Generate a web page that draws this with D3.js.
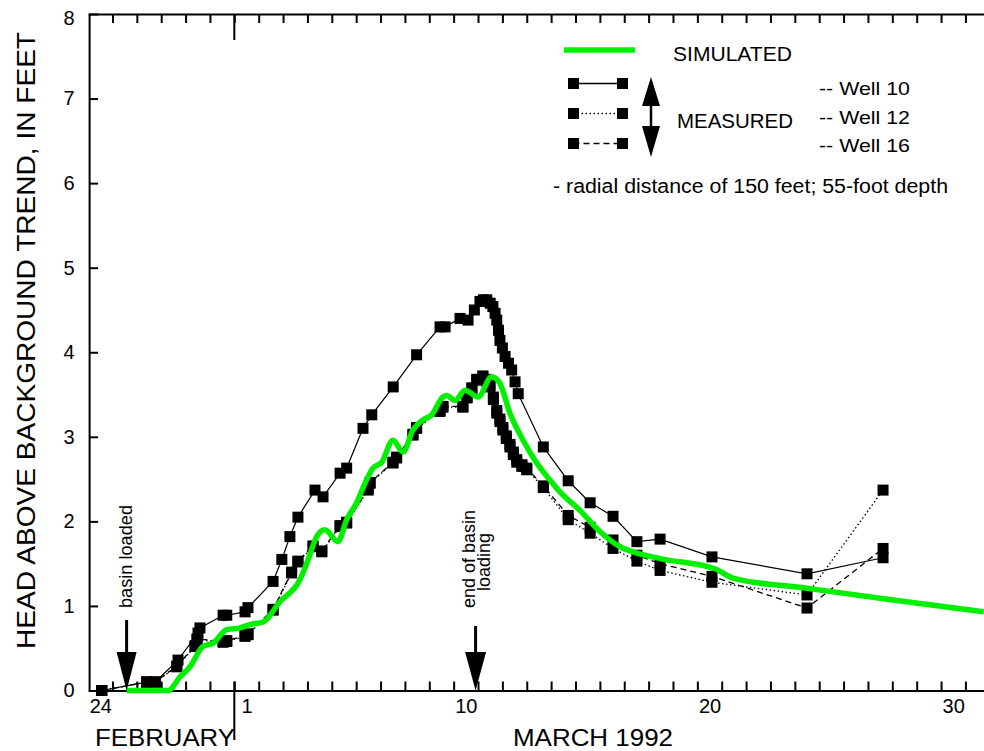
<!DOCTYPE html>
<html>
<head>
<meta charset="utf-8">
<script src="https://cdn.jsdelivr.net/npm/d3@7"></script>
<style>
  body { margin: 0; background: #fff; }
  svg { display: block; font-family: "Liberation Sans", Arial, sans-serif; }
</style>
</head>
<body>
<div id="chart"></div>
<script>
const w = 984;
const h = 751;

// days counted from Feb 24 1992, 00:00
const dayLabels = ["24", "1", "10", "20", "30"];
const dayLabelAt = [0, 6, 15, 25, 35];
const monthLabels = ["FEBRUARY", "MARCH 1992"];
const yTicks = [0, 1, 2, 3, 4, 5, 6, 7, 8];
const eventDays = [1.58, 15.9]; // basin loaded, end of basin loading

const well10 = [
  [0.56, 0.00], [2.40, 0.10], [2.75, 0.10], [3.69, 0.36], [4.51, 0.68], [4.59, 0.74],
  [5.54, 0.89], [5.69, 0.89], [6.44, 0.93], [6.56, 0.98], [7.59, 1.29], [7.95, 1.55],
  [8.28, 1.82], [8.61, 2.05], [9.31, 2.37], [9.64, 2.29], [10.34, 2.57], [10.61, 2.63],
  [11.28, 3.10], [11.64, 3.26], [12.52, 3.59], [13.48, 3.97], [14.44, 4.30], [14.65, 4.30],
  [15.26, 4.40], [15.59, 4.38], [15.85, 4.50], [16.08, 4.60], [16.22, 4.62], [16.36, 4.62],
  [16.50, 4.58], [16.61, 4.54], [16.70, 4.46], [16.77, 4.38], [16.84, 4.26], [16.90, 4.14],
  [17.00, 4.05], [17.11, 3.95], [17.25, 3.87], [17.38, 3.79], [17.52, 3.65], [17.65, 3.51],
  [18.68, 2.88], [19.70, 2.48], [20.60, 2.22], [21.54, 2.06], [22.52, 1.76], [23.47, 1.79],
  [25.60, 1.58], [29.50, 1.38], [32.62, 1.57]
];

const well12 = [
  [0.56, 0.00], [2.40, 0.10], [2.75, 0.10], [3.64, 0.28], [4.39, 0.52], [4.47, 0.60],
  [5.54, 0.57], [5.69, 0.58], [6.44, 0.64], [6.56, 0.66], [7.59, 0.95], [8.35, 1.39],
  [8.61, 1.52], [9.23, 1.70], [9.59, 1.64], [10.34, 1.94], [10.61, 1.98], [11.49, 2.37],
  [11.57, 2.45], [12.51, 2.69], [12.66, 2.75], [13.33, 3.02], [13.48, 3.10], [14.44, 3.30],
  [14.56, 3.35], [15.38, 3.35], [15.55, 3.46], [15.75, 3.57], [15.95, 3.67], [16.20, 3.71],
  [16.35, 3.66], [16.49, 3.59], [16.63, 3.44], [16.77, 3.28], [16.90, 3.18], [17.02, 3.08],
  [17.16, 2.98], [17.31, 2.88], [17.45, 2.79], [17.59, 2.70], [17.80, 2.65], [18.00, 2.61],
  [18.68, 2.40], [19.70, 2.02], [20.60, 1.86], [21.54, 1.68], [22.52, 1.53], [23.47, 1.42],
  [25.60, 1.28], [29.50, 1.13], [32.62, 2.37]
];

const well16 = [
  [0.56, 0.00], [2.40, 0.10], [2.75, 0.10], [3.64, 0.29], [4.39, 0.53], [4.47, 0.61],
  [5.54, 0.58], [5.69, 0.59], [6.44, 0.65], [6.56, 0.67], [7.59, 0.96], [8.35, 1.40],
  [8.61, 1.53], [9.23, 1.71], [9.59, 1.65], [10.34, 1.95], [10.61, 1.99], [11.49, 2.38],
  [11.57, 2.46], [12.51, 2.70], [12.66, 2.76], [13.33, 3.03], [13.48, 3.11], [14.44, 3.31],
  [14.56, 3.36], [15.38, 3.36], [15.55, 3.47], [15.75, 3.58], [15.95, 3.68], [16.20, 3.72],
  [16.35, 3.68], [16.49, 3.61], [16.63, 3.47], [16.77, 3.31], [16.90, 3.21], [17.02, 3.11],
  [17.16, 3.01], [17.31, 2.91], [17.45, 2.82], [17.59, 2.73], [17.80, 2.67], [18.00, 2.63],
  [18.68, 2.42], [19.70, 2.07], [20.60, 1.93], [21.54, 1.78], [22.52, 1.60], [23.47, 1.50],
  [25.60, 1.35], [29.50, 0.975], [32.62, 1.68]
];

const simulated = [
  [1.58, 0.00], [3.28, 0.00], [3.77, 0.16], [4.18, 0.28], [4.71, 0.52], [5.13, 0.56],
  [5.69, 0.72], [6.23, 0.74], [6.64, 0.78], [7.18, 0.81], [7.87, 1.05], [8.69, 1.31],
  [9.02, 1.54], [9.38, 1.82], [9.72, 1.90], [10.25, 1.76], [10.61, 2.02], [11.02, 2.22],
  [11.36, 2.45], [11.69, 2.63], [12.05, 2.70], [12.51, 2.96], [12.92, 2.82], [13.33, 3.08],
  [13.74, 3.20], [14.10, 3.26], [14.56, 3.47], [14.71, 3.49], [15.06, 3.43], [15.47, 3.55],
  [16.00, 3.47], [16.56, 3.71], [16.90, 3.63], [17.31, 3.28], [17.85, 2.96], [18.41, 2.69],
  [18.95, 2.49], [19.36, 2.35], [20.18, 2.13], [21.00, 1.88], [21.83, 1.70], [22.36, 1.64],
  [23.47, 1.56], [25.72, 1.44], [26.46, 1.33], [29.49, 1.21], [33.03, 1.07], [36.75, 0.93]
];

const wellNames = ["-- Well 10", "-- Well 12", "-- Well 16"];
const wellDash = [null, "1.5,2.5", "6,4"];

const green = "#00f000";
const font = "'Liberation Sans', Arial, sans-serif";

let svg = d3.select('#chart')
  .append('svg')
    .attr('width', w)
    .attr('height', h);

svg.append('rect').attr('width', w).attr('height', h).attr('fill', '#fff');

const xScale = d3.scaleLinear().domain([0, 36.75]).range([88.1, 983.7]);
const yScale = d3.scaleLinear().domain([0, 8]).range([690.5, 14]);

// axes
function styleAxis(g) {
  g.select('.domain').attr('stroke', '#000').attr('stroke-width', 2);
  g.selectAll('.tick line').attr('stroke', '#000').attr('stroke-width', 2);
}

svg.append('g')
  .attr('transform', `translate(0,${yScale(0)})`)
  .call(d3.axisBottom(xScale).tickValues(d3.range(1, 37)).tickSizeInner(-9).tickSizeOuter(0).tickFormat(''))
  .call(styleAxis);

svg.append('g')
  .attr('transform', `translate(0,${yScale(8)})`)
  .call(d3.axisTop(xScale).tickValues(d3.range(1, 37)).tickSizeInner(-9).tickSizeOuter(0).tickFormat(''))
  .call(styleAxis);

svg.append('g')
  .attr('transform', `translate(${xScale(0) + 1},0)`)
  .call(d3.axisLeft(yScale).tickValues(yTicks).tickSizeInner(-9).tickSizeOuter(0).tickPadding(14))
  .call(styleAxis)
  .call(g => g.selectAll('.tick text')
    .attr('font-size', 20).attr('font-family', font).attr('fill', '#000')
    .attr('text-anchor', 'middle').attr('x', -20)
    .attr('dy', (d) => d === 8 ? '0.5em' : '0.32em'));

// day labels, centred on the middle of each day
svg.append('g')
  .attr('transform', `translate(0,${yScale(0)})`)
  .call(d3.axisBottom(xScale).tickValues(dayLabelAt.map(d => d + 0.5))
    .tickSize(0).tickPadding(8).tickFormat((d, i) => dayLabels[i]))
  .call(g => g.select('.domain').remove())
  .call(g => g.selectAll('.tick text')
    .attr('font-size', 20).attr('font-family', font).attr('fill', '#000'));

// month separator (long tick at March 1)
svg.append('line')
  .attr('x1', xScale(6)).attr('x2', xScale(6))
  .attr('y1', yScale(0) - 9).attr('y2', 740)
  .attr('stroke', '#000').attr('stroke-width', 2);
svg.append('line')
  .attr('x1', xScale(6)).attr('x2', xScale(6))
  .attr('y1', yScale(8)).attr('y2', 40)
  .attr('stroke', '#000').attr('stroke-width', 2);

svg.append('text')
  .attr('x', 95).attr('y', 746)
  .attr('font-size', 24).attr('font-family', font)
  .attr('textLength', 140).attr('lengthAdjust', 'spacingAndGlyphs')
  .text(monthLabels[0]);
svg.append('text')
  .attr('x', 513).attr('y', 746)
  .attr('font-size', 24).attr('font-family', font)
  .attr('textLength', 160).attr('lengthAdjust', 'spacingAndGlyphs')
  .text(monthLabels[1]);

svg.append('text')
  .attr('transform', 'translate(35,340.5) rotate(-90)')
  .attr('text-anchor', 'middle')
  .attr('font-size', 25).attr('font-family', font)
  .attr('textLength', 617).attr('lengthAdjust', 'spacingAndGlyphs')
  .text('HEAD ABOVE BACKGROUND TREND, IN FEET');

// measured wells
const line = d3.line().x(d => xScale(d[0])).y(d => yScale(d[1]));
const wells = [well10, well12, well16];

wells.forEach((data, i) => {
  svg.append('path')
    .attr('d', line(data))
    .attr('fill', 'none')
    .attr('stroke', '#000')
    .attr('stroke-width', i === 0 ? 1.2 : 1.3)
    .attr('stroke-dasharray', wellDash[i]);
});

wells.forEach((data) => {
  svg.append('g').selectAll('rect')
    .data(data)
    .enter()
    .append('rect')
    .attr('x', d => xScale(d[0]) - 5.5)
    .attr('y', d => yScale(d[1]) - 5.5)
    .attr('width', 11)
    .attr('height', 11)
    .attr('fill', '#000');
});

// simulated
svg.append('path')
  .attr('d', line.curve(d3.curveMonotoneX)(simulated))
  .attr('fill', 'none')
  .attr('stroke', green)
  .attr('stroke-width', 5.5)
  .attr('stroke-linejoin', 'round');

// event arrows
function downArrow(cx, yTop, headTop, tip, halfW) {
  svg.append('line')
    .attr('x1', cx).attr('x2', cx).attr('y1', yTop).attr('y2', headTop + 4)
    .attr('stroke', '#000').attr('stroke-width', 3);
  svg.append('path')
    .attr('d', `M${cx - halfW},${headTop}L${cx + halfW},${headTop}L${cx},${tip}Z`)
    .attr('fill', '#000');
}
downArrow(xScale(eventDays[0]), 620, 652, yScale(0), 10);
downArrow(xScale(eventDays[1]), 626, 652, yScale(0), 10.5);

svg.append('text')
  .attr('transform', `translate(${xScale(eventDays[0]) + 5},608) rotate(-90)`)
  .attr('font-size', 18).attr('font-family', font)
  .attr('textLength', 103).attr('lengthAdjust', 'spacingAndGlyphs')
  .text('basin loaded');

svg.append('text')
  .attr('transform', `translate(${xScale(eventDays[1]) - 0.5},559) rotate(-90)`)
  .attr('text-anchor', 'middle')
  .attr('font-size', 18).attr('font-family', font)
  .text('end of basin');
svg.append('text')
  .attr('transform', `translate(${xScale(eventDays[1]) + 14.5},562) rotate(-90)`)
  .attr('text-anchor', 'middle')
  .attr('font-size', 18).attr('font-family', font)
  .text('loading');

// legend
const legend = svg.append('g');
legend.append('line')
  .attr('x1', 564).attr('x2', 635).attr('y1', 50).attr('y2', 50)
  .attr('stroke', green).attr('stroke-width', 5.5);
legend.append('text')
  .attr('x', 673).attr('y', 61)
  .attr('font-size', 21).attr('font-family', font)
  .attr('textLength', 119).attr('lengthAdjust', 'spacingAndGlyphs')
  .text('SIMULATED');

const legendY = [83.5, 113.5, 143.5];
const legendTextY = [95, 123.5, 152];
wellNames.forEach((name, i) => {
  legend.append('line')
    .attr('x1', 573.5).attr('x2', 622.5).attr('y1', legendY[i]).attr('y2', legendY[i])
    .attr('stroke', '#000').attr('stroke-width', 1.5)
    .attr('stroke-dasharray', wellDash[i]);
  [573.5, 622.5].forEach(cx => {
    legend.append('rect')
      .attr('x', cx - 5.5).attr('y', legendY[i] - 5.5)
      .attr('width', 11).attr('height', 11).attr('fill', '#000');
  });
  legend.append('text')
    .attr('x', 819).attr('y', legendTextY[i])
    .attr('font-size', 19).attr('font-family', font)
    .attr('textLength', 91).attr('lengthAdjust', 'spacingAndGlyphs')
    .text(name);
});

// double arrow
legend.append('line')
  .attr('x1', 651).attr('x2', 651).attr('y1', 100).attr('y2', 132)
  .attr('stroke', '#000').attr('stroke-width', 2.5);
legend.append('path')
  .attr('d', 'M651,77L660,106L642,106Z M651,157L660,126L642,126Z')
  .attr('fill', '#000');

legend.append('text')
  .attr('x', 677).attr('y', 128)
  .attr('font-size', 21).attr('font-family', font)
  .attr('textLength', 116).attr('lengthAdjust', 'spacingAndGlyphs')
  .text('MEASURED');

legend.append('text')
  .attr('x', 553).attr('y', 193)
  .attr('font-size', 20).attr('font-family', font)
  .attr('textLength', 395).attr('lengthAdjust', 'spacingAndGlyphs')
  .text('- radial distance of 150 feet; 55-foot depth');
</script>
</body>
</html>
